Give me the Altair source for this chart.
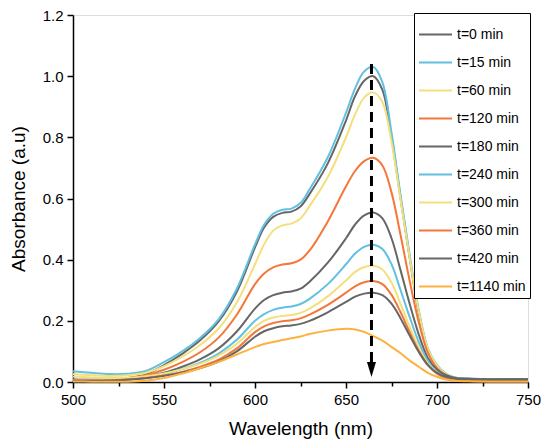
import altair as alt
import pandas as pd

wavelength = [500, 510, 520, 530, 540, 550, 560, 570, 580, 590, 600, 605, 610, 615, 620, 625, 630,
              640, 650, 655, 660, 665, 670, 675, 680, 685, 690, 695, 700, 705, 710, 720, 730, 740, 750]

series_labels = ["t=0 min", "t=15 min", "t=60 min", "t=120 min", "t=180 min",
                 "t=240 min", "t=300 min", "t=360 min", "t=420 min", "t=1140 min"]
series_colors = ["#666666", "#62c0e2", "#f3e07c", "#f4773a", "#666666",
                 "#62c0e2", "#f3e07c", "#f4773a", "#666666", "#fdb13e"]

a_t0 = [0.008, 0.007, 0.008, 0.013, 0.025, 0.055, 0.092, 0.137, 0.198, 0.295, 0.440, 0.505, 0.540, 0.553, 0.557, 0.574, 0.615,
        0.715, 0.855, 0.935, 0.985, 1.000, 0.955, 0.800, 0.600, 0.405, 0.225, 0.105, 0.050, 0.024, 0.014, 0.011, 0.010, 0.010, 0.010]
a_t15 = [0.035, 0.030, 0.026, 0.027, 0.036, 0.065, 0.100, 0.145, 0.205, 0.305, 0.450, 0.514, 0.550, 0.563, 0.567, 0.585, 0.630,
         0.735, 0.880, 0.960, 1.015, 1.030, 0.980, 0.815, 0.610, 0.415, 0.235, 0.110, 0.055, 0.027, 0.015, 0.010, 0.009, 0.008, 0.008]
a_t60 = [0.026, 0.022, 0.020, 0.022, 0.030, 0.052, 0.083, 0.122, 0.175, 0.260, 0.385, 0.450, 0.495, 0.512, 0.518, 0.535, 0.575,
         0.670, 0.800, 0.875, 0.930, 0.947, 0.915, 0.785, 0.595, 0.405, 0.230, 0.108, 0.053, 0.025, 0.013, 0.006, 0.004, 0.003, 0.003]
a_t120 = [0.008, 0.007, 0.008, 0.012, 0.022, 0.040, 0.065, 0.098, 0.145, 0.220, 0.320, 0.355, 0.375, 0.384, 0.388, 0.400, 0.430,
          0.525, 0.640, 0.690, 0.722, 0.733, 0.708, 0.620, 0.480, 0.330, 0.195, 0.095, 0.045, 0.022, 0.012, 0.005, 0.004, 0.003, 0.003]
a_t180 = [0.005, 0.004, 0.005, 0.009, 0.017, 0.030, 0.050, 0.075, 0.110, 0.165, 0.240, 0.268, 0.284, 0.292, 0.296, 0.305, 0.328,
          0.390, 0.470, 0.515, 0.545, 0.554, 0.535, 0.470, 0.365, 0.255, 0.155, 0.078, 0.040, 0.022, 0.013, 0.009, 0.008, 0.008, 0.008]
a_t240 = [0.006, 0.005, 0.006, 0.009, 0.015, 0.026, 0.042, 0.063, 0.093, 0.138, 0.200, 0.222, 0.236, 0.243, 0.247, 0.255, 0.272,
          0.320, 0.385, 0.420, 0.442, 0.449, 0.435, 0.385, 0.300, 0.212, 0.130, 0.068, 0.033, 0.016, 0.009, 0.005, 0.004, 0.003, 0.003]
a_t300 = [0.018, 0.015, 0.013, 0.014, 0.019, 0.028, 0.042, 0.060, 0.086, 0.125, 0.180, 0.200, 0.211, 0.216, 0.219, 0.226, 0.240,
          0.280, 0.332, 0.360, 0.376, 0.381, 0.368, 0.325, 0.255, 0.180, 0.112, 0.060, 0.030, 0.014, 0.007, 0.004, 0.003, 0.003, 0.003]
a_t360 = [0.004, 0.004, 0.005, 0.008, 0.013, 0.021, 0.033, 0.050, 0.073, 0.110, 0.163, 0.182, 0.193, 0.199, 0.202, 0.208, 0.220,
          0.252, 0.292, 0.313, 0.326, 0.330, 0.320, 0.285, 0.228, 0.163, 0.102, 0.055, 0.027, 0.013, 0.007, 0.004, 0.003, 0.003, 0.003]
a_t420 = [0.003, 0.003, 0.004, 0.007, 0.012, 0.020, 0.031, 0.046, 0.067, 0.100, 0.148, 0.166, 0.176, 0.182, 0.185, 0.190, 0.200,
          0.228, 0.262, 0.279, 0.289, 0.292, 0.284, 0.256, 0.208, 0.152, 0.098, 0.055, 0.030, 0.017, 0.011, 0.009, 0.008, 0.008, 0.008]
a_t1140 = [0.002, 0.001, 0.001, 0.001, 0.004, 0.013, 0.028, 0.046, 0.066, 0.090, 0.114, 0.124, 0.131, 0.137, 0.143, 0.149, 0.157,
           0.168, 0.174, 0.172, 0.164, 0.150, 0.135, 0.115, 0.094, 0.070, 0.050, 0.030, 0.017, 0.008, 0.004, 0.002, 0.001, 0.001, 0.001]

all_series = [a_t0, a_t15, a_t60, a_t120, a_t180, a_t240, a_t300, a_t360, a_t420, a_t1140]

# dashed arrow annotation
arrow_x = [664]
arrow_top = [1.04]
arrow_bottom = [0.065]
arrow_head_y = [0.041]

rows = []
for order, (lab, vals) in enumerate(zip(series_labels, all_series)):
    for w, a in zip(wavelength, vals):
        rows.append({"wl": w, "A": a, "series": lab, "order": order})
df = pd.DataFrame(rows)

arrow_df = pd.DataFrame({"x": arrow_x, "y1": arrow_top, "y2": arrow_bottom, "yh": arrow_head_y})

FONT = "Liberation Sans"

x_scale = alt.Scale(domain=[500, 750], nice=False, zero=False)
y_scale = alt.Scale(domain=[0, 1.2], nice=False)

x_axis = alt.Axis(
    title="Wavelength (nm)",
    values=list(range(500, 751, 25)),
    labelExpr="datum.value % 50 === 0 ? datum.label : ''",
    tickSize={"condition": {"test": "datum.value % 50 === 0", "value": 6}, "value": 4},
    labelFlush=False, labelOverlap=False, grid=False,
    labelFontSize=15, titleFontSize=19, labelFont=FONT, titleFont=FONT,
    labelColor="black", titleColor="black", titleFontWeight="normal",
    domainColor="black", tickColor="black", domainWidth=1.5, tickWidth=1.5,
    labelPadding=4, titlePadding=12,
)
y_axis = alt.Axis(
    title="Absorbance (a.u)",
    values=[round(i * 0.1, 1) for i in range(13)],
    labelExpr="round(datum.value * 10) % 2 === 0 ? format(datum.value, '.1f') : ''",
    tickSize={"condition": {"test": "round(datum.value * 10) % 2 === 0", "value": 6}, "value": 4},
    labelFlush=False, labelOverlap=False, grid=False,
    labelFontSize=15, titleFontSize=19, labelFont=FONT, titleFont=FONT,
    labelColor="black", titleColor="black", titleFontWeight="normal",
    domainColor="black", tickColor="black", domainWidth=1.5, tickWidth=1.5,
    labelPadding=4, titlePadding=14,
)

lines = alt.Chart(df).mark_line(strokeWidth=2, interpolate="catmull-rom").encode(
    x=alt.X("wl:Q", scale=x_scale, axis=x_axis),
    y=alt.Y("A:Q", scale=y_scale, axis=y_axis),
    color=alt.Color(
        "series:N",
        scale=alt.Scale(domain=series_labels, range=series_colors),
        sort=series_labels,
        legend=alt.Legend(
            title=None, orient="none", legendX=341, legendY=-2,
            strokeColor="black", fillColor="white", padding=4,
            symbolType="stroke", symbolSize=1089, symbolStrokeWidth=2,
            labelFontSize=14, labelFont=FONT, labelColor="black",
            rowPadding=3, labelOffset=4, labelLimit=200,
        ),
    ),
    order=alt.Order("order:Q"),
)

arrow_line = alt.Chart(arrow_df).mark_rule(color="black", strokeWidth=3, strokeDash=[10, 6]).encode(
    x=alt.X("x:Q", scale=x_scale),
    y=alt.Y("y1:Q", scale=y_scale),
    y2="y2:Q",
)
arrow_head = alt.Chart(arrow_df).mark_point(
    shape="M-0.6,-1L0.6,-1L0,1Z", filled=True, color="black", size=225, opacity=1
).encode(
    x=alt.X("x:Q", scale=x_scale),
    y=alt.Y("yh:Q", scale=y_scale),
)

chart = alt.layer(lines, arrow_line, arrow_head).properties(
    width=455, height=367,
    autosize=alt.AutoSizeParams(type="none"),
    padding={"left": 65, "top": 7, "right": 14, "bottom": 62},
).configure_view(stroke="black", strokeWidth=1.5).configure(background="white")

chart.save("out.html", embed_options={"renderer": "svg", "actions": False})
